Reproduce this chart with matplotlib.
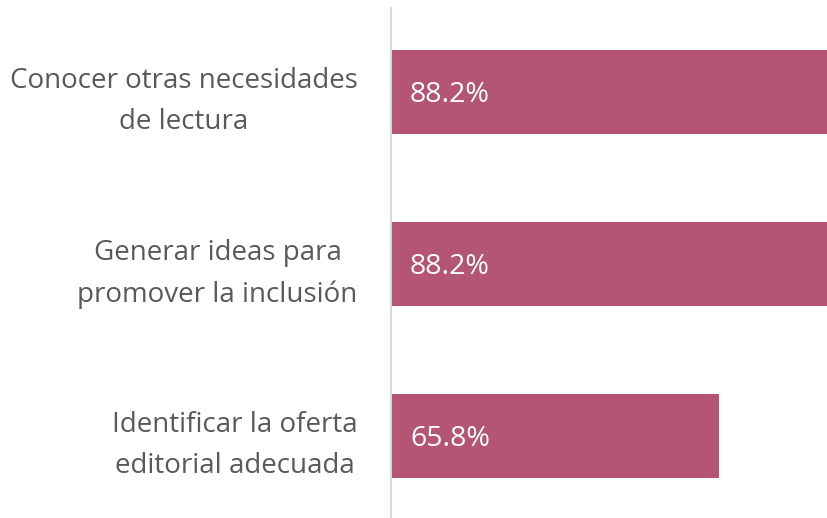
import matplotlib
matplotlib.use("Agg")
import matplotlib.pyplot as plt

# data
labels = ["Conocer otras necesidades\nde lectura",
          "Generar ideas para\npromover la inclusión",
          "Identificar la oferta\neditorial adecuada"]
values = [88.2, 88.2, 65.8]

bar_color = "#B45573"
text_color = "#595959"

plt.rcParams['font.family'] = ['Open Sans', 'DejaVu Sans']

fig = plt.figure(figsize=(8.27, 5.18), dpi=100)
ax = fig.add_axes([391/827, 0, 1 - 391/827, 510/518])

ypos = list(range(len(values)))
ax.barh(ypos, values, height=0.494, color=bar_color)

for y, v in zip(ypos, values):
    ax.text(3.8, y, "%.1f%%" % v, color="white", fontsize=20.5,
            va="center_baseline", ha="left")

ax.set_xlim(0, 87.5)
ax.set_ylim(2 + 82/172, -84/172)
ax.set_yticks(ypos)
ax.set_yticklabels(labels, fontsize=20, color=text_color, linespacing=1.6)
ax.tick_params(axis='y', length=0, pad=24)
ax.set_xticks([])

for s in ['top', 'right', 'bottom']:
    ax.spines[s].set_visible(False)
ax.spines['left'].set_color("#D9D9D9")
ax.spines['left'].set_linewidth(1.5)
for t in ax.get_yticklabels():
    t.set_multialignment('center')

fig.savefig("out.png", dpi=100)
